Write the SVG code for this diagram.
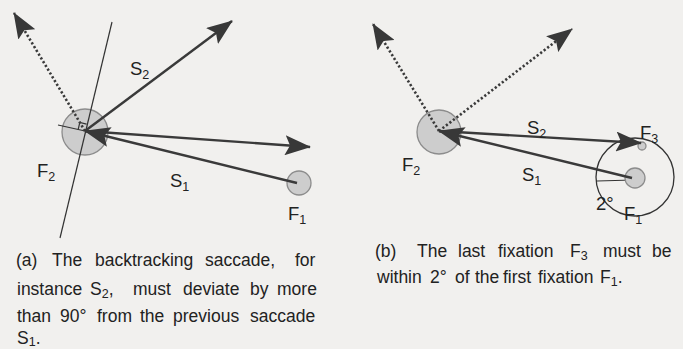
<svg xmlns="http://www.w3.org/2000/svg" width="683" height="349" viewBox="0 0 683 349">
<defs>
<marker id="ah" markerUnits="userSpaceOnUse" viewBox="0 0 26 20" markerWidth="26" markerHeight="20" refX="25" refY="10" orient="auto">
<path d="M0,0 L26,10 L0,20 L5,10 z" fill="#383838"/>
</marker>
<style>
.bg{fill:#f1f0ee}
.fix{fill:#cdcdcd;stroke:#8c8c8c;stroke-width:1.3}
.sol{stroke:#3a3a3a;stroke-width:2.4;fill:none;marker-end:url(#ah)}
.dot{stroke:#3a3a3a;stroke-width:2.6;stroke-dasharray:2.2 2.2;fill:none;marker-end:url(#ah)}
.thin{stroke:#333;stroke-width:1.2;fill:none}
.lbl{font-family:"Liberation Sans",Arial,sans-serif;font-size:18.5px;fill:#222}
.cap{font-family:"Liberation Sans",Arial,sans-serif;font-size:17.5px;fill:#222}
.sub{font-size:12.5px}
</style>
</defs>
<rect class="bg" x="0" y="0" width="683" height="349"/>

<!-- Panel (a) -->
<g id="a-F2"><circle class="fix" cx="85" cy="132" r="23"/></g>
<g id="a-F1"><circle class="fix" cx="299" cy="183" r="12"/></g>
<g id="a-perp">
<line class="thin" x1="112" y1="22" x2="60" y2="238"/>
<line class="thin" x1="58" y1="125" x2="85" y2="131" stroke-width="1"/>
<polyline class="thin" points="78.2,129.3 79.8,122.5 86.6,124.2" stroke-width="1"/>
</g>
<g id="a-connectors">
<line class="dot" x1="85" y1="131" x2="14" y2="13"/>
<line class="sol" x1="85" y1="131" x2="232" y2="21"/>
<line class="sol" x1="85" y1="131" x2="310" y2="147"/>
<line class="sol" x1="297" y1="183" x2="85" y2="131"/>
</g>
<g id="a-labels">
<text class="lbl" x="130" y="75">S<tspan class="sub" dy="4">2</tspan></text>
<text class="lbl" x="37" y="177">F<tspan class="sub" dy="4">2</tspan></text>
<text class="lbl" x="170" y="187">S<tspan class="sub" dy="4">1</tspan></text>
<text class="lbl" x="288" y="220">F<tspan class="sub" dy="4">1</tspan></text>
</g>

<!-- Panel (b) -->
<g id="b-F2"><circle class="fix" cx="439" cy="132" r="22"/></g>
<g id="b-range"><circle cx="635" cy="177" r="39" fill="none" stroke="#333" stroke-width="1.3"/>
<line class="thin" x1="633" y1="180" x2="597" y2="181"/></g>
<g id="b-F1"><circle class="fix" cx="635" cy="178" r="10"/></g>
<g id="b-F3"><circle class="fix" cx="642" cy="146" r="4"/></g>
<g id="b-connectors">
<line class="dot" x1="439" y1="131" x2="373" y2="24"/>
<line class="dot" x1="439" y1="131" x2="572" y2="29"/>
<line class="sol" x1="439" y1="131" x2="641" y2="143"/>
<line class="sol" x1="632" y1="178" x2="439" y2="131"/>
</g>
<g id="b-labels">
<text class="lbl" x="527" y="134">S<tspan class="sub" dy="4">2</tspan></text>
<text class="lbl" x="640" y="139">F<tspan class="sub" dy="4">3</tspan></text>
<text class="lbl" x="402" y="171">F<tspan class="sub" dy="4">2</tspan></text>
<text class="lbl" x="522" y="181">S<tspan class="sub" dy="4">1</tspan></text>
<text class="lbl" x="596" y="210">2°</text>
<text class="lbl" x="624" y="220">F<tspan class="sub" dy="4">1</tspan></text>
</g>

<!-- Captions -->
<g id="caption-a">
<text class="cap" y="266"><tspan x="16">(a)</tspan><tspan x="52">The</tspan><tspan x="95">backtracking</tspan><tspan x="205">saccade,</tspan><tspan x="295">for</tspan></text>
<text class="cap" y="295"><tspan x="17">instance</tspan><tspan x="90">S</tspan><tspan class="sub" dy="3">2</tspan><tspan dy="-3">,</tspan><tspan x="133">must</tspan><tspan x="183">deviate</tspan><tspan x="250">by</tspan><tspan x="277">more</tspan></text>
<text class="cap" y="322"><tspan x="17">than</tspan><tspan x="60">90°</tspan><tspan x="97">from</tspan><tspan x="140">the</tspan><tspan x="173">previous</tspan><tspan x="250">saccade</tspan></text>
<text class="cap" y="344"><tspan x="17">S</tspan><tspan class="sub" dy="2">1</tspan><tspan dy="-2">.</tspan></text>
</g>
<g id="caption-b">
<text class="cap" y="257"><tspan x="375">(b)</tspan><tspan x="417">The</tspan><tspan x="458">last</tspan><tspan x="498">fixation</tspan><tspan x="570">F</tspan><tspan class="sub" dy="3">3</tspan><tspan x="603" dy="-3">must</tspan><tspan x="652">be</tspan></text>
<text class="cap" y="283"><tspan x="377">within</tspan><tspan x="430">2°</tspan><tspan x="455">of</tspan><tspan x="475">the</tspan><tspan x="503">first</tspan><tspan x="538">fixation</tspan><tspan x="600">F</tspan><tspan class="sub" dy="3">1</tspan><tspan dy="-3">.</tspan></text>
</g>
</svg>
